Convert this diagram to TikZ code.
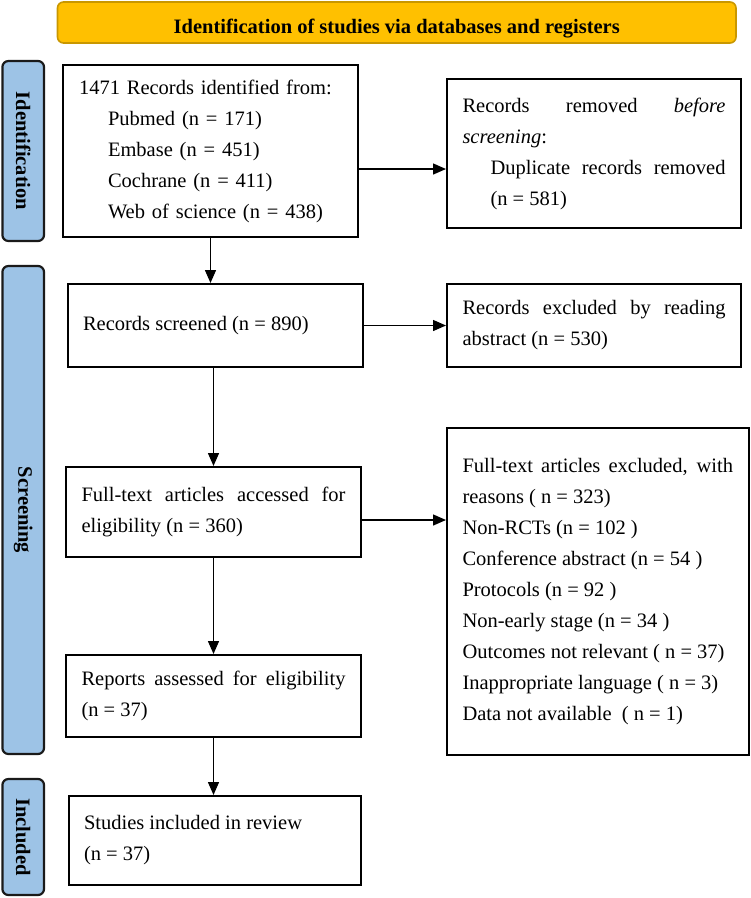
\documentclass[tikz,border=0pt]{standalone}
\usepackage{fontspec}
\setmainfont{Liberation Serif}
\usetikzlibrary{arrows.meta}
\definecolor{bannerfill}{HTML}{FFC000}
\definecolor{bannerdraw}{HTML}{C99700}
\definecolor{labelfill}{HTML}{9DC3E6}
\definecolor{labeldraw}{HTML}{1A1A1A}
\begin{document}
\begin{tikzpicture}[x=1pt,y=-1pt,
  every node/.style={font=\fontsize{20.5}{31}\selectfont},
  box/.style={draw=black, line width=2pt, inner xsep=15.5pt, inner ysep=0pt, align=justify, fill=white},
  labelbox/.style={draw=labeldraw, fill=labelfill, line width=2.2pt, rounded corners=6pt, inner sep=0pt, font=\fontsize{20.5}{24}\selectfont\bfseries},
  banner/.style={draw=bannerdraw, fill=bannerfill, line width=1.6pt, rounded corners=6pt, inner sep=0pt, font=\fontsize{20.5}{24}\selectfont\bfseries},
  arr/.style={line width=1.4pt, -{Triangle[length=13pt,width=11pt]}}
]
\useasboundingbox (0,0) rectangle (751,898);

\node[banner, minimum width=678.5pt, minimum height=41pt] (banner) at (396.75,22.5) {\raisebox{-5pt}[11pt][0pt]{Identification of studies via databases and registers}};

\node[labelbox, minimum width=41.6pt, minimum height=180pt] (lid) at (23.2,151) {\rotatebox{-90}{Identification}};
\node[labelbox, minimum width=41.6pt, minimum height=488pt] (lsc) at (23.2,510) {\rotatebox{-90}{Screening}};
\node[labelbox, minimum width=41.6pt, minimum height=116pt] (lin) at (23.2,837) {\rotatebox{-90}{Included}};

\node[box, align=left, inner xsep=16pt, text width=263pt, minimum height=172pt] (b1) at (210.5,151)
  {1471 Records identified from:\\
   \hspace*{29pt}Pubmed (n = 171)\\
   \hspace*{29pt}Embase (n = 451)\\
   \hspace*{29pt}Cochrane (n = 411)\\
   \hspace*{29pt}Web of science (n = 438)};

\node[box, text width=263pt, minimum height=149pt] (b2) at (594,153.5)
  {Records removed \textit{before}\linebreak \textit{screening}:\newline
   \hspace*{28pt}\parbox[t]{235pt}{Duplicate records removed\linebreak (n = 581)}};

\node[box, text width=264pt, minimum height=83pt] (b3) at (215,325.5)
  {Records screened (n = 890)};

\node[box, text width=263pt, minimum height=83pt] (b4) at (594,325.5)
  {Records excluded by reading\linebreak abstract (n = 530)};

\node[box, text width=264pt, minimum height=90pt] (b5) at (213.5,512)
  {Full-text articles accessed for\linebreak eligibility (n = 360)};

\node[box, text width=270.5pt, minimum height=327pt] (b6) at (597.75,591.5)
  {Full-text articles excluded, with\linebreak
   reasons ( n = 323)\newline
   Non-RCTs (n = 102 )\newline
   Conference abstract (n = 54 )\newline
   Protocols (n = 92 )\newline
   Non-early stage (n = 34 )\newline
   Outcomes not relevant ( n = 37)\newline
   Inappropriate language ( n = 3)\newline
   Data not available \ ( n = 1)};

\node[box, text width=264pt, minimum height=82pt] (b7) at (213.5,696)
  {Reports assessed for eligibility\linebreak (n = 37)};

\node[box, text width=261.5pt, minimum height=89pt] (b8) at (214.75,840.5)
  {Studies included in review\newline (n = 37)};

\draw[arr] (b1.south) -- (b1.south |- b3.north);
\draw[arr] (b5.north |- b3.south) -- (b5.north);
\draw[arr] (b5.south) -- (b7.north);
\draw[arr] (b7.south) -- (b7.south |- b8.north);

\coordinate (h1) at ([yshift=-18pt]b1.east);
\draw[arr] (h1) -- (h1 -| b2.west);
\draw[arr] (b3.east) -- (b3.east -| b4.west);
\coordinate (h3) at ([yshift=-8pt]b5.east);
\draw[arr] (h3) -- (h3 -| b6.west);
\end{tikzpicture}
\end{document}
